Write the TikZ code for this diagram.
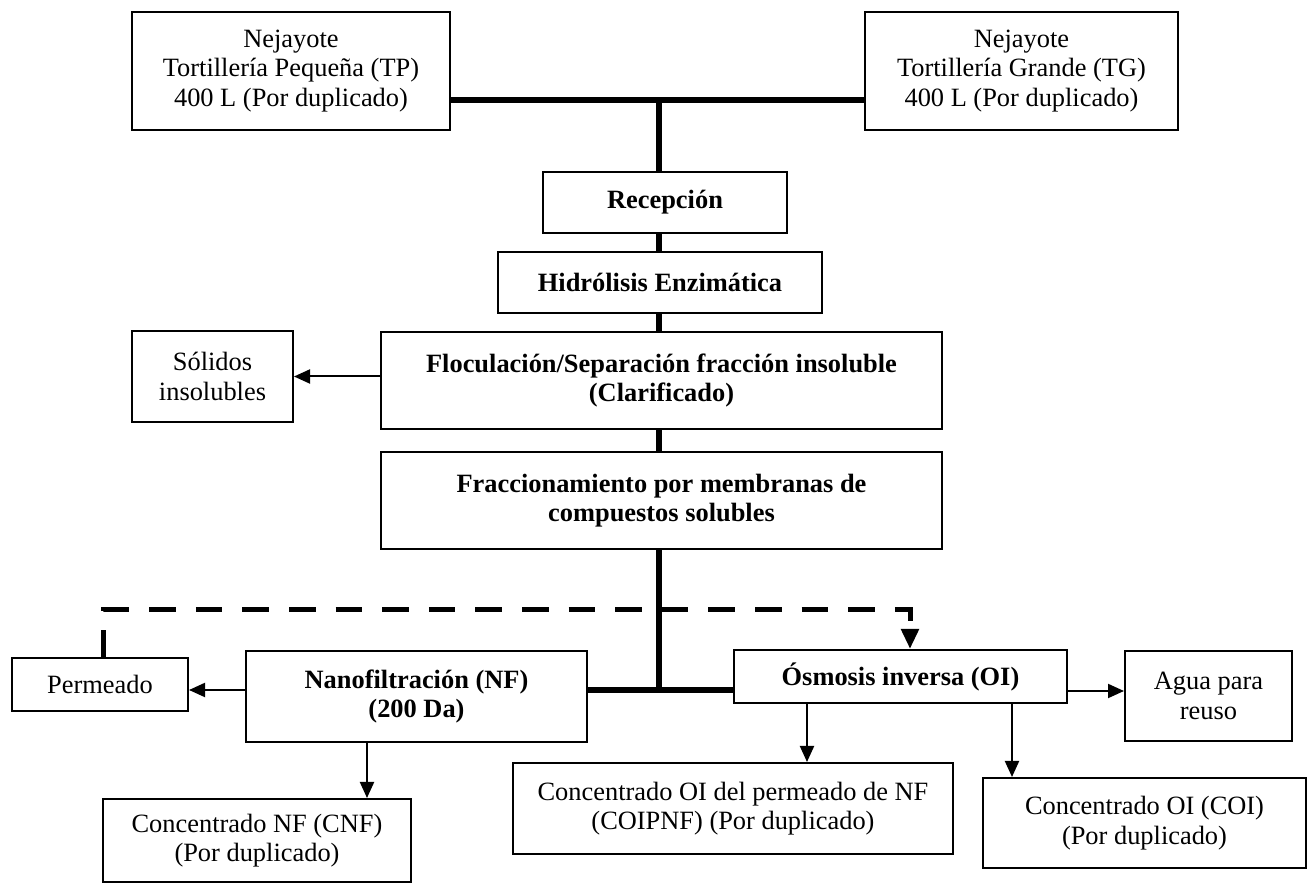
\documentclass[tikz,border=0pt]{standalone}
\usepackage{fontspec}
\setmainfont{Liberation Serif}
\usetikzlibrary{arrows.meta}

\begin{document}
\begin{tikzpicture}[x=0.5pt,y=-0.5pt,
    every node/.style={inner sep=0pt, align=center, font=\fontsize{13.2}{14.8}\selectfont},
    caja/.style={draw, line width=1pt},
    proc/.style={caja, font=\fontsize{13.2}{14.8}\selectfont\bfseries},
    flujo/.style={line width=2.75pt},
    flecha/.style={line width=1pt, -{Triangle[length=8pt,width=7pt]}},
    retorno/.style={line width=2.5pt, dash pattern=on 13.3pt off 10pt, -{Triangle[length=10pt,width=8.5pt]}}]
    \useasboundingbox (0,0) rectangle (1313,886);

    % materia prima
    \node[caja, minimum width=159pt, minimum height=59pt] (tp) at (291,71) {Nejayote\\Tortillería Pequeña (TP)\\400 L (Por duplicado)};
    \node[caja, minimum width=156.5pt, minimum height=59pt] (tg) at (1021.5,71) {Nejayote\\Tortillería Grande (TG)\\400 L (Por duplicado)};

    % etapas del proceso
    \node[proc, minimum width=122pt, minimum height=30.5pt] (rec) at (665,202.5) {Recepción};
    \node[proc, minimum width=162pt, minimum height=30.5pt] (hid) at (660,282.5) {Hidrólisis Enzimática};
    \node[proc, minimum width=280.5pt, minimum height=48.5pt] (floc) at (661.5,380.5) {Floculación/Separación fracción insoluble\\(Clarificado)};
    \node[caja, minimum width=80.5pt, minimum height=45.5pt] (sol) at (212.5,376.5) {Sólidos\\insolubles};
    \node[proc, minimum width=280.5pt, minimum height=48.5pt] (frac) at (661.5,500.5) {Fraccionamiento por membranas de\\compuestos solubles};

    % membranas
    \node[proc, minimum width=170.5pt, minimum height=45.5pt] (nf) at (416.5,696.5) {Nanofiltración (NF)\\(200 Da)};
    \node[proc, minimum width=166.5pt, minimum height=26.5pt] (oi) at (900.5,676.5) {Ósmosis inversa (OI)};
    \node[caja, minimum width=88pt, minimum height=26.5pt] (perm) at (100,684.5) {Permeado};
    \node[caja, minimum width=83.5pt, minimum height=45pt] (agua) at (1208.5,696) {Agua para\\reuso};

    % productos
    \node[caja, minimum width=154pt, minimum height=41.5pt] (cnf) at (257,840.5) {Concentrado NF (CNF)\\(Por duplicado)};
    \node[caja, minimum width=220pt, minimum height=45.5pt] (coipnf) at (733,808.5) {Concentrado OI del permeado de NF\\(COIPNF) (Por duplicado)};
    \node[caja, minimum width=161.5pt, minimum height=45pt] (coi) at (1144.5,823) {Concentrado OI (COI)\\(Por duplicado)};

    \coordinate (union) at (659,100);
    \coordinate (rama) at (659,690);

    % linea principal
    \draw[flujo] (tp.east |- union) -- (tg.west |- union);
    \draw[flujo] (union) -- (union |- rec.north);
    \draw[flujo] (union |- rec.south) -- (union |- hid.north);
    \draw[flujo] (union |- hid.south) -- (union |- floc.north);
    \draw[flujo] (union |- floc.south) -- (union |- frac.north);
    \draw[flujo] (union |- frac.south) -- (rama);
    \draw[flujo] (nf.east |- rama) -- (oi.west |- rama);

    % salidas
    \draw[flecha] (floc.west |- sol.east) -- (sol.east);
    \draw[flecha] (nf.west |- rama) -- (perm.east |- rama);
    \draw[flecha] ([xshift=-24.75pt]nf.south) -- ([xshift=-24.75pt]nf.south |- cnf.north);
    \draw[flecha] ([yshift=-7.25pt]oi.east) -- ([yshift=-7.25pt]oi.east -| agua.west);
    \draw[flecha] ([xshift=-46.75pt]oi.south) -- ([xshift=-46.75pt]oi.south |- coipnf.north);
    \draw[flecha] ([xshift=55.75pt]oi.south) -- ([xshift=55.75pt]oi.south |- coi.north);

    % permeado a OI
    \draw[retorno] ([xshift=1.5pt]perm.north) -- ++(0,-47) -| ([xshift=4.75pt]oi.north);
\end{tikzpicture}
\end{document}
